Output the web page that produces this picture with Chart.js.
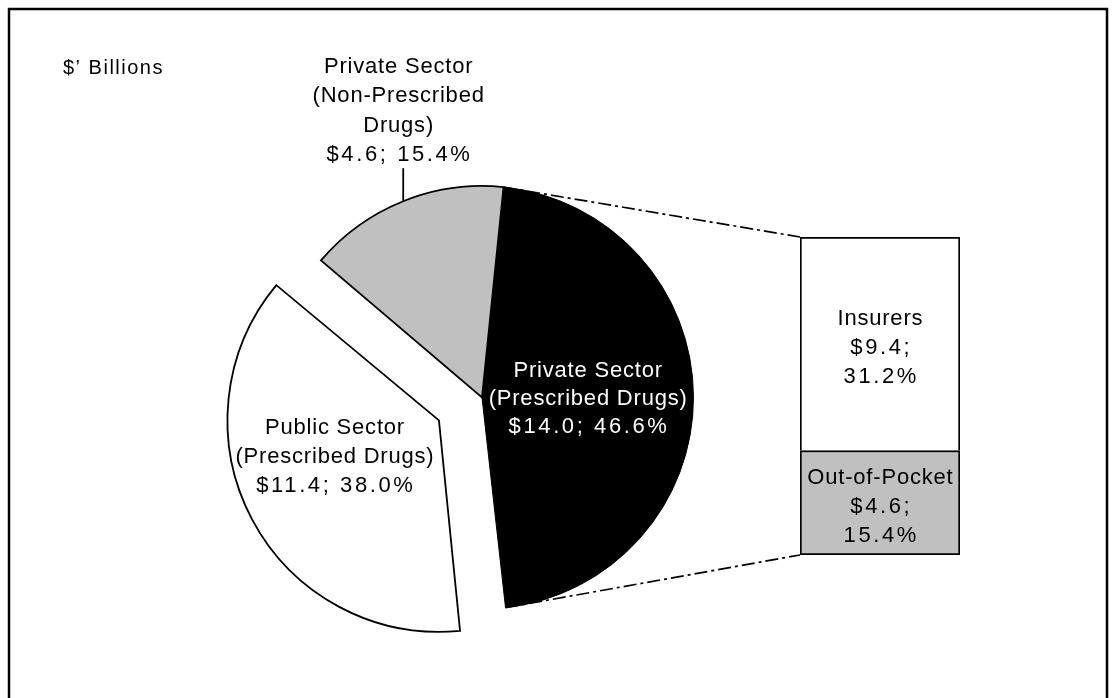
<!DOCTYPE html>
<html>
<head>
<meta charset="utf-8">
<script src="https://cdn.jsdelivr.net/npm/chart.js@4.4.0/dist/chart.umd.min.js"></script>
<style>
html,body{margin:0;padding:0;background:#fff;overflow:hidden;width:1116px;height:698px;}
#wrap{position:relative;width:1116px;height:698px;overflow:hidden;background:#fff;}
#pie,#bar{position:absolute;left:0;top:0;}
</style>
</head>
<body>
<div id="wrap">
<canvas id="pie" width="1116" height="1000"></canvas>
<canvas id="bar" width="1116" height="698"></canvas>
</div>
<script>
// ---------------- data ----------------
const unitNote = '$\u2019 Billions';
const pieCategories = ['Private Sector (Prescribed Drugs)', 'Public Sector (Prescribed Drugs)', 'Private Sector (Non-Prescribed Drugs)'];
const pieLabelLines = [['Private Sector', '(Prescribed Drugs)'], ['Public Sector', '(Prescribed Drugs)'], ['Private Sector', '(Non-Prescribed', 'Drugs)']];
const pieDollars = [14.0, 11.4, 4.6];
const piePercents = [46.6, 38.0, 15.4];
const barCategories = ['Insurers', 'Out-of-Pocket'];
const barDollars = [9.4, 4.6];
const barPercents = [31.2, 15.4];

// ---------------- styles ----------------
const FONT = '"Liberation Sans", Arial, Helvetica, sans-serif';
const WORD_FONT = '22px ' + FONT;
const WORD_LS = 0.8;
const NUM_LS = 2.6;
const pieColors = ['#000000', '#ffffff', '#c0c0c0'];
const pieBorderWidths = [1, 1.8, 1.8];
const pieOffsets = [0, 195, 0];
const barColors = ['#ffffff', '#c0c0c0'];

function drawTextLines(ctx, lines, cx, cy, lh, color) {
  ctx.save();
  ctx.fillStyle = color;
  ctx.textAlign = 'center';
  ctx.textBaseline = 'middle';
  const y0 = cy - (lines.length - 1) * lh / 2;
  lines.forEach((ln, i) => {
    ctx.font = WORD_FONT;
    ctx.letterSpacing = ln.ls + 'px';
    ctx.fillText(ln.text, cx + ln.ls / 2, y0 + i * lh);
  });
  ctx.letterSpacing = '0px';
  ctx.restore();
}
const words = (arr) => arr.map(t => ({text: t, ls: WORD_LS}));
const num = (t) => ({text: t, ls: NUM_LS});

// ---------------- pie chart ----------------
const piePlugin = {
  id: 'piePlugin',
  afterDatasetsUpdate(chart) {
    // keep exploded slice at the same radius as the others
    chart.getDatasetMeta(0).data.forEach(arc => {
      const off = (arc.options.offset || 0) / 4;
      if (off) {
        const fix = 1 - Math.sin(Math.min(Math.PI, arc.circumference || (arc.endAngle - arc.startAngle)));
        arc.outerRadius -= off * fix;
      }
    });
  },
  afterDraw(chart) {
    const ctx = chart.ctx;
    // frame
    ctx.save();
    ctx.strokeStyle = '#000';
    ctx.lineWidth = 2.5;
    ctx.strokeRect(9, 9, 1098, 1200);
    ctx.restore();
    // unit note
    ctx.save();
    ctx.font = '20px ' + FONT;
    ctx.letterSpacing = '1.5px';
    ctx.fillStyle = '#000';
    ctx.textAlign = 'left';
    ctx.textBaseline = 'middle';
    ctx.fillText(unitNote, 63, 68);
    ctx.letterSpacing = '0px';
    ctx.restore();

    const meta = chart.getDatasetMeta(0);
    const R = 211.5;
    meta.data.forEach((arc, i) => {
      const mid = (arc.startAngle + arc.endAngle) / 2;
      const off = (arc.options.offset || 0) / 4;
      const ax = arc.x + Math.cos(mid) * off;
      const ay = arc.y + Math.sin(mid) * off;
      const numText = '$' + pieDollars[i].toFixed(1) + '; ' + piePercents[i].toFixed(1) + '%';
      const lines = words(pieLabelLines[i]).concat([num(numText)]);
      if (i === 0) {
        drawTextLines(ctx, lines, ax + Math.cos(mid) * R / 2, ay + Math.sin(mid) * R / 2 + 2, 28.3, '#ffffff');
      } else if (i === 1) {
        drawTextLines(ctx, lines, ax + Math.cos(mid) * R / 2 - 11, ay + Math.sin(mid) * R / 2 - 13, 29, '#000');
      } else {
        const ox = arc.x + Math.cos(mid) * arc.outerRadius;
        const oy = arc.y + Math.sin(mid) * arc.outerRadius;
        const top = oy - 33;
        ctx.save();
        ctx.strokeStyle = '#000';
        ctx.lineWidth = 1.8;
        ctx.beginPath();
        ctx.moveTo(ox, top);
        ctx.lineTo(ox, oy);
        ctx.stroke();
        ctx.restore();
        const lh = 29.4;
        const cy = top - 13 - (lines.length - 1) * lh / 2;
        drawTextLines(ctx, lines, ox - 5, cy, lh, '#000');
      }
    });
  }
};

const pieChart = new Chart(document.getElementById('pie'), {
  type: 'pie',
  data: {
    labels: pieCategories,
    datasets: [{
      data: piePercents,
      backgroundColor: pieColors,
      borderColor: '#000000',
      borderWidth: pieBorderWidths,
      borderJoinStyle: 'miter',
      offset: pieOffsets,
      hoverOffset: 0,
      radius: 211.5
    }]
  },
  options: {
    responsive: false,
    animation: false,
    events: [],
    rotation: 5.85,
    layout: {padding: {left: 100, right: 252, top: 40, bottom: 245}},
    plugins: {legend: {display: false}, tooltip: {enabled: false}, title: {display: false}}
  },
  plugins: [piePlugin]
});

// ---------------- bar of pie ----------------
const barPlugin = {
  id: 'barPlugin',
  afterDatasetsDraw(chart) {
    const ctx = chart.ctx;
    const n = barCategories.length;
    // datasets are reversed (bottom first)
    const topEl = chart.getDatasetMeta(n - 1).data[0];
    const botEl = chart.getDatasetMeta(0).data[0];
    chart.data.datasets.forEach((ds, di) => {
      const el = chart.getDatasetMeta(di).data[0];
      const k = ds.srcIndex;
      const cy = (el.y + el.base) / 2 + 4;
      const lines = words([barCategories[k]]).concat([num('$' + barDollars[k].toFixed(1) + ';'), num(barPercents[k].toFixed(1) + '%')]);
      drawTextLines(ctx, lines, el.x, cy, 29, '#000');
    });
    // connectors from the split slice of the pie
    const arc = pieChart.getDatasetMeta(0).data[0];
    const R = arc.outerRadius;
    const p1 = [arc.x + Math.cos(arc.startAngle) * R, arc.y + Math.sin(arc.startAngle) * R];
    const p2 = [arc.x + Math.cos(arc.endAngle) * R, arc.y + Math.sin(arc.endAngle) * R];
    const left = topEl.x - topEl.width / 2;
    ctx.save();
    ctx.strokeStyle = '#000';
    ctx.lineWidth = 1.7;
    ctx.setLineDash([13, 4, 3, 4]);
    ctx.beginPath();
    ctx.moveTo(p1[0], p1[1]);
    ctx.lineTo(left, topEl.y);
    ctx.moveTo(p2[0], p2[1]);
    ctx.lineTo(left, botEl.base);
    ctx.stroke();
    ctx.restore();
  }
};

const barDatasets = barCategories.map((c, i) => ({
  label: c,
  srcIndex: i,
  data: [barDollars[i]],
  backgroundColor: barColors[i],
  borderColor: '#000000',
  borderWidth: 2,
  borderSkipped: i === 0 ? 'start' : false,
  barPercentage: 1,
  categoryPercentage: 1
})).reverse();

const barChart = new Chart(document.getElementById('bar'), {
  type: 'bar',
  data: {labels: [''], datasets: barDatasets},
  options: {
    responsive: false,
    animation: false,
    events: [],
    layout: {padding: {left: 800, right: 156, top: 237, bottom: 143}},
    scales: {
      x: {display: false, stacked: true, grid: {display: false}},
      y: {display: false, stacked: true, min: 0, max: barDollars.reduce((a, b) => a + b, 0)}
    },
    plugins: {legend: {display: false}, tooltip: {enabled: false}, title: {display: false}}
  },
  plugins: [barPlugin]
});
</script>
</body>
</html>
